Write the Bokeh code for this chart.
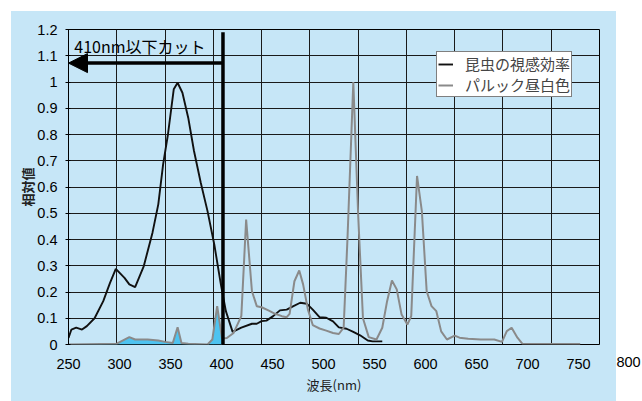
from bokeh.plotting import figure
from bokeh.models import (Range1d, LinearAxis, FixedTicker, Grid, NumeralTickFormatter,
                          Legend, LegendItem, Label, Arrow, NormalHead)
from bokeh.embed import file_html
from bokeh.resources import INLINE

# ---------------- data ----------------
INSECT_NM = [250, 253, 258, 264, 269, 277, 286, 293, 299, 308,
             313, 319, 328, 337, 343, 348, 353, 359, 363, 368,
             374, 380, 387, 394, 401, 408, 413, 420, 429, 440,
             445, 450, 455, 462, 469, 476, 483, 490, 497, 503,
             510, 517, 524, 530, 538, 545, 552, 560, 565, 575]
INSECT_V = [0.025, 0.057, 0.064, 0.057, 0.07, 0.10, 0.165, 0.235, 0.288, 0.254,
            0.229, 0.219, 0.299, 0.426, 0.534, 0.686, 0.80, 0.972, 0.997, 0.959,
            0.864, 0.737, 0.616, 0.508, 0.381, 0.225, 0.127, 0.048, 0.064, 0.079,
            0.079, 0.089, 0.091, 0.108, 0.13, 0.133, 0.146, 0.159, 0.155, 0.133,
            0.104, 0.102, 0.088, 0.065, 0.06, 0.048, 0.035, 0.015, 0.012, 0.012]

LAMP_NM = [250, 300, 313, 319, 332, 343, 350, 358, 363, 367,
           374, 394, 399, 404, 409, 414, 421, 429, 434, 440,
           445, 450, 457, 464, 471, 476, 479, 484, 489, 493,
           498, 503, 510, 517, 524, 530, 535, 539, 545, 550,
           555, 561, 569, 575, 580, 585, 590, 595, 601, 605,
           611, 616, 621, 626, 631, 636, 642, 650, 655, 664,
           677, 691, 699, 704, 709, 715, 720, 780]
LAMP_V = [0, 0.003, 0.028, 0.019, 0.019, 0.015, 0.01, 0.006, 0.066, 0.006,
          0.003, 0, 0.019, 0.146, 0.023, 0.025, 0.044, 0.108, 0.476, 0.203,
          0.146, 0.142, 0.13, 0.117, 0.108, 0.104, 0.117, 0.241, 0.282, 0.229,
          0.133, 0.074, 0.061, 0.053, 0.044, 0.04, 0.064, 0.407, 1.0, 0.496,
          0.10, 0.028, 0.019, 0.064, 0.165, 0.244, 0.21, 0.114, 0.076, 0.108,
          0.642, 0.508, 0.203, 0.146, 0.127, 0.05, 0.019, 0.034, 0.026, 0.022,
          0.019, 0.019, 0.01, 0.051, 0.064, 0.026, 0.003, 0.002]

SERIES_NAMES = ["昆虫の視感効率", "パルック昼白色"]
X_TICKS = [250, 300, 350, 400, 450, 500, 550, 600, 650, 700, 750, 800]
Y_TICKS = [0, 0.1, 0.2, 0.3, 0.4, 0.5, 0.6, 0.7, 0.8, 0.9, 1.0, 1.1, 1.2]
X_TITLE = "波長(nm)"
Y_TITLE = "相対値"
CUT_NM = 410
CUT_TOP = 1.19
CUT_TEXT = "410nm以下カット"
CUT_TEXT_X = 256
CUT_TEXT_Y = 1.137
ARROW_Y = 1.072
ARROW_TIP = 250

# ---------------- style ----------------
BG = "#c6e6f7"
FILL = "#4ec3f0"
GRID = "#1a1a1a"
NUM_FONT = "Liberation Sans"
JP_FONT = "Noto Sans CJK JP"

p = figure(width=642, height=401, output_backend="svg", toolbar_location=None,
           x_range=Range1d(X_TICKS[0], X_TICKS[-1]), y_range=Range1d(Y_TICKS[0], Y_TICKS[-1]),
           x_axis_type=None,
           min_border_left=68, min_border_right=43, min_border_top=29, min_border_bottom=57)
p.border_fill_color = None
p.background_fill_color = BG
p.outline_line_color = "black"
p.outline_line_width = 1
p.styles = {"background": f"linear-gradient({BG},{BG}) 11px 11px / 605px 400px no-repeat, #ffffff"}

# grids
xgrid = Grid(dimension=0, ticker=FixedTicker(ticks=X_TICKS),
             grid_line_color=GRID, grid_line_width=1)
p.add_layout(xgrid)
yax = p.yaxis[0]
yticker = FixedTicker(ticks=Y_TICKS)
yax.ticker = yticker
p.ygrid[0].ticker = yticker
p.ygrid[0].grid_line_color = GRID
p.ygrid[0].grid_line_width = 1

# y axis
yax.formatter = NumeralTickFormatter(format="0.[0]")
yax.axis_label = Y_TITLE
yax.axis_label_text_font = JP_FONT
yax.axis_label_text_font_size = "13px"
yax.axis_label_text_font_style = "bold"
yax.axis_label_text_color = "#222222"
yax.axis_label_standoff = -3
yax.major_label_text_font = NUM_FONT
yax.major_label_text_font_size = "14.5px"
yax.major_label_text_color = "black"
yax.major_label_standoff = 8
yax.major_tick_out = 3
yax.major_tick_in = 2
yax.major_tick_line_color = "black"
yax.minor_tick_line_color = None
yax.axis_line_color = "black"

# x axis (tick labels laid out with their own spacing, as in the original)
p.extra_x_ranges = {"lab": Range1d(X_TICKS[0], X_TICKS[0] + 531 * 50 / 51)}
xax = LinearAxis(x_range_name="lab", ticker=FixedTicker(ticks=X_TICKS[:-1]),
                 axis_label=X_TITLE)
xax.axis_label_text_font = JP_FONT
xax.axis_label_text_font_size = "13px"
xax.axis_label_text_font_style = "normal"
xax.axis_label_text_color = "#222222"
xax.axis_label_standoff = 3
xax.major_label_text_font = NUM_FONT
xax.major_label_text_font_size = "14.5px"
xax.major_label_text_color = "black"
xax.major_label_standoff = 8
xax.major_tick_line_color = None
xax.minor_tick_line_color = None
xax.axis_line_color = None
p.add_layout(xax, "below")

last_tick = Label(x=29, y=-12, x_units="screen", y_units="screen", text=str(X_TICKS[-1]),
                  text_align="center", text_baseline="top", text_font=NUM_FONT,
                  text_font_size="14.5px", text_color="black")
p.add_layout(last_tick, "right")

# data
fx = [n for n in LAMP_NM if n <= CUT_NM]
fy = [v for n, v in zip(LAMP_NM, LAMP_V) if n <= CUT_NM]
p.varea(x=fx, y1=0, y2=fy, fill_color=FILL)

r_insect = p.line(INSECT_NM, INSECT_V, line_color="#111111", line_width=1.9)
r_lamp = p.line(LAMP_NM, LAMP_V, line_color="#8a8a8a", line_width=2)

# cut annotation
p.segment(x0=[CUT_NM], y0=[0], x1=[CUT_NM], y1=[CUT_TOP], line_color="black", line_width=3.5)
p.add_layout(Arrow(end=NormalHead(size=19, fill_color="black", line_color="black"),
                   x_start=CUT_NM, y_start=ARROW_Y, x_end=ARROW_TIP, y_end=ARROW_Y,
                   line_color="black", line_width=3.5))
p.add_layout(Label(x=CUT_TEXT_X, y=CUT_TEXT_Y, text=CUT_TEXT, text_font=JP_FONT,
                   text_font_size="16px", text_baseline="middle", text_color="black"))

legend = Legend(items=[LegendItem(label=SERIES_NAMES[0], renderers=[r_insect]),
                       LegendItem(label=SERIES_NAMES[1], renderers=[r_lamp])],
                location=(368, 247))
legend.border_line_color = "black"
legend.border_line_width = 1
legend.background_fill_color = "white"
legend.background_fill_alpha = 1
legend.label_text_font = JP_FONT
legend.label_text_font_size = "15px"
legend.glyph_width = 15
legend.glyph_height = 16
legend.label_height = 16
legend.label_standoff = 12
legend.padding = 1
legend.spacing = -4
legend.margin = 0
p.add_layout(legend)

open("out.html", "w").write(file_html(p, INLINE))
